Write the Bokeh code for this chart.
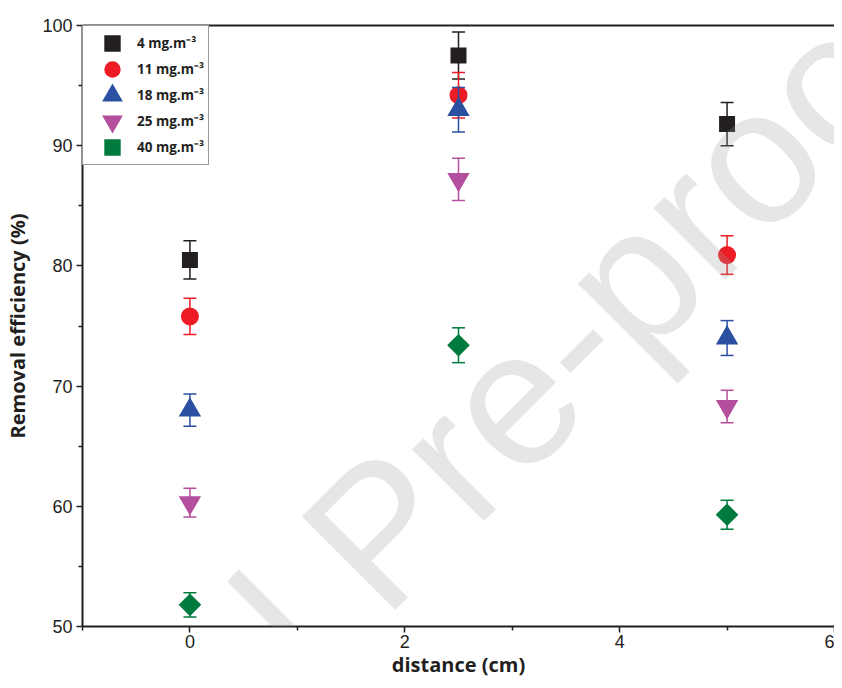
from bokeh.plotting import figure
from bokeh.models import (Range1d, FixedTicker, ColumnDataSource, Legend, LegendItem,
                          Label, LinearAxis)
from bokeh.embed import file_html
from bokeh.resources import INLINE
import math

# ---- data ----
distance = [0, 2.5, 5]
labels = ["4 mg.m\u207b\u00b3", "11 mg.m\u207b\u00b3", "18 mg.m\u207b\u00b3",
          "25 mg.m\u207b\u00b3", "40 mg.m\u207b\u00b3"]
eff_4 = [80.5, 97.5, 91.8]
err_4 = [1.6, 1.95, 1.8]
eff_11 = [75.8, 94.2, 80.9]
err_11 = [1.5, 1.9, 1.6]
eff_18 = [68.0, 93.0, 74.0]
err_18 = [1.35, 1.85, 1.45]
eff_25 = [60.3, 87.2, 68.3]
err_25 = [1.2, 1.75, 1.35]
eff_40 = [51.8, 73.4, 59.3]
err_40 = [1.0, 1.45, 1.2]

x_ticks = [0, 2, 4, 6]
x_minor = [-1, 1, 3, 5]
y_ticks = [50, 60, 70, 80, 90, 100]
y_minor = [55, 65, 75, 85, 95]

# ---- styles ----
styles = [
    dict(marker="square", color="#231f20", size=10, angle=0.0),
    dict(marker="circle", color="#ed1c24", size=12, angle=0.0),
    dict(marker="triangle", color="#2b50a1", size=12, angle=0.0),
    dict(marker="inverted_triangle", color="#b44f9d", size=12, angle=0.0),
    dict(marker="square", color="#007a3d", size=10, angle=math.pi / 4),
]
series = [(eff_4, err_4), (eff_11, err_11), (eff_18, err_18), (eff_25, err_25), (eff_40, err_40)]

p = figure(width=834, height=680, x_range=Range1d(-1, 6), y_range=Range1d(50, 100),
           output_backend="svg", toolbar_location=None,
           min_border_left=82, min_border_right=0, min_border_top=25, min_border_bottom=54)
p.background_fill_color = "white"
p.border_fill_color = "white"
p.xgrid.visible = False
p.ygrid.visible = False
p.outline_line_color = None

items = []
for (vals, errs), st, lab in zip(series, styles, labels):
    src = ColumnDataSource(dict(
        x=distance, y=vals,
        upper=[v + e for v, e in zip(vals, errs)],
        lower=[v - e for v, e in zip(vals, errs)],
    ))
    p.segment(x0="x", y0="lower", x1="x", y1="upper", source=src,
              line_color=st["color"], line_width=1.5)
    p.scatter(x="x", y="upper", source=src, marker="dash", size=13,
              line_color=st["color"], line_width=1.5)
    p.scatter(x="x", y="lower", source=src, marker="dash", size=13,
              line_color=st["color"], line_width=1.5)
    r = p.scatter(x="x", y="y", source=src, marker=st["marker"], size=st["size"],
                  angle=st["angle"], fill_color=st["color"], line_color=st["color"],
                  line_width=6, line_join="miter")
    items.append(LegendItem(label=lab, renderers=[r]))

legend = Legend(items=items, location="top_left", margin=0, padding=4, spacing=0,
                glyph_height=26, glyph_width=50, label_standoff=0, label_height=20,
                label_text_font="Open Sans", label_text_font_style="bold",
                label_text_font_size="13.5px", label_text_color="#231f20",
                border_line_color="#333333", border_line_width=1,
                background_fill_color="white", background_fill_alpha=1)
p.add_layout(legend)

# top frame line (no right border, as in the reference)
top_axis = LinearAxis(ticker=FixedTicker(ticks=[], minor_ticks=[]),
                      major_tick_out=0, major_tick_in=0, minor_tick_out=0, minor_tick_in=0,
                      axis_line_width=2, axis_line_color="#231f20")
p.add_layout(top_axis, "above")

# axes
xa = p.below[0]
ya = p.left[0]
xa.ticker = FixedTicker(ticks=x_ticks, minor_ticks=x_minor)
ya.ticker = FixedTicker(ticks=y_ticks, minor_ticks=y_minor)
xa.axis_label = "distance (cm)"
ya.axis_label = "Removal efficiency (%)"
for ax in (xa, ya):
    ax.axis_line_width = 2
    ax.axis_line_color = "#231f20"
    ax.major_tick_out = 6
    ax.major_tick_in = 0
    ax.minor_tick_out = 4
    ax.minor_tick_in = 0
    ax.major_tick_line_width = 1.5
    ax.minor_tick_line_width = 1.5
    ax.major_tick_line_color = "#231f20"
    ax.minor_tick_line_color = "#231f20"
    ax.major_label_text_font = "Liberation Sans"
    ax.major_label_text_font_size = "18px"
    ax.major_label_text_color = "#231f20"
    ax.axis_label_text_font = "Open Sans"
    ax.axis_label_text_font_style = "bold"
    ax.axis_label_text_font_size = "20px"
    ax.axis_label_text_color = "#231f20"
ya.major_label_standoff = 4
ya.axis_label_standoff = 8
xa.major_label_standoff = 2
xa.axis_label_standoff = 0

# "Journal Pre-proof" watermark drawn over the chart, as in the reference
wm = Label(x=1.755, y=57.82, text="Journal Pre-proof", angle=45, angle_units="deg",
           text_font="Liberation Sans", text_font_size="192px", text_color="#a0a0a0",
           text_alpha=0.26, text_align="center", text_baseline="middle",
           level="overlay")
p.add_layout(wm)

open("out.html", "w").write(file_html(p, INLINE))
